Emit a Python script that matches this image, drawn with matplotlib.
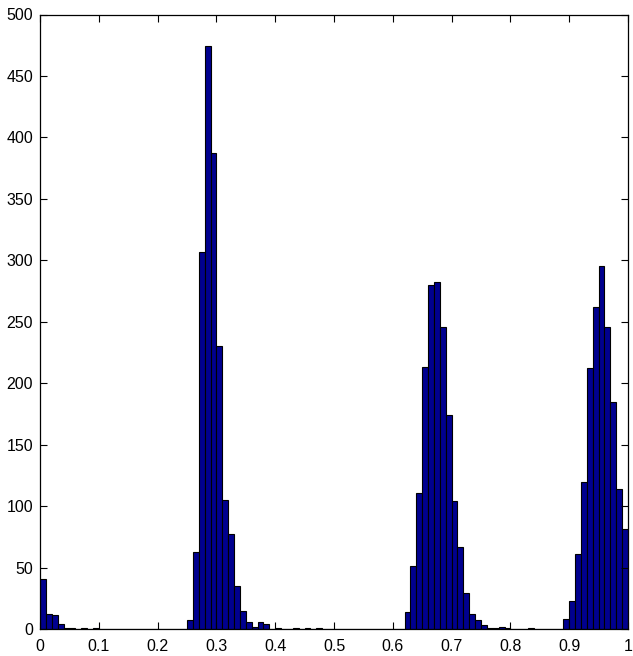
import numpy as np
import matplotlib
matplotlib.use('Agg')
import matplotlib.pyplot as plt

# histogram counts, 100 bins of width 0.01 over [0, 1]
counts = [41, 12, 11, 4, 1, 1, 0, 1, 0, 1,
          0, 0, 0, 0, 0, 0, 0, 0, 0, 0,
          0, 0, 0, 0, 0, 7, 63, 307, 474, 387,
          230, 105, 77, 35, 15, 6, 2, 6, 4, 0,
          1, 0, 0, 1, 0, 1, 0, 1, 0, 0,
          0, 0, 0, 0, 0, 0, 0, 0, 0, 0,
          0, 0, 14, 51, 111, 213, 280, 282, 246, 174,
          104, 67, 29, 12, 7, 3, 1, 1, 2, 1,
          0, 0, 0, 1, 0, 0, 0, 0, 0, 8,
          23, 61, 120, 212, 262, 295, 246, 185, 114, 81]
bin_width = 0.01
edges = np.arange(len(counts)) * bin_width

xticks = np.arange(0, 1.01, 0.1)
xlabels = ['0', '0.1', '0.2', '0.3', '0.4', '0.5', '0.6', '0.7', '0.8', '0.9', '1']
yticks = np.arange(0, 501, 50)

plt.rcParams['font.family'] = ['Liberation Sans', 'DejaVu Sans']

fig = plt.figure(figsize=(6.33, 6.56), dpi=100)
ax = fig.add_axes([40/633, 1 - 629/656, 588/633, 614.5/656])

ax.bar(edges, counts, width=bin_width, align='edge',
       color='#00008F', edgecolor='black', linewidth=0.8)

ax.set_xlim(0, 1)
ax.set_ylim(0, 500)
ax.set_xticks(xticks)
ax.set_xticklabels(xlabels)
ax.set_yticks(yticks)
ax.tick_params(direction='in', top=True, right=True, length=5,
               labelsize=11.5, width=0.8)
ax.tick_params(axis='x', pad=7)
ax.tick_params(axis='y', pad=5)
for s in ax.spines.values():
    s.set_linewidth(0.9)

fig.savefig('out.png', dpi=100)
